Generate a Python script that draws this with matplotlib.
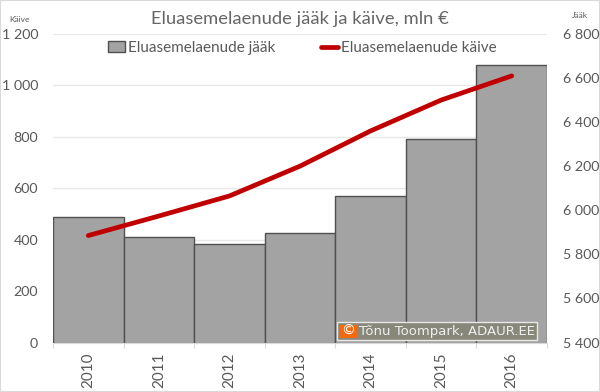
"""Eluasemelaenude jaak ja kaive chart."""

import matplotlib
matplotlib.use("Agg")
import matplotlib.pyplot as plt
from matplotlib.patches import Rectangle
from matplotlib.ticker import FuncFormatter

YEARS = ["2010", "2011", "2012", "2013", "2014", "2015", "2016"]
BALANCE = [5970, 5881, 5845, 5895, 6065, 6323, 6659]
TURNOVER = [416, 492, 570, 686, 823, 943, 1037]

LEFT_TICKS = [0, 200, 400, 600, 800, 1000, 1200]
RIGHT_TICKS = [5400, 5600, 5800, 6000, 6200, 6400, 6600, 6800]

W, H = 600, 392
TEXT = "#595959"


def _spaced(value: float, _: int) -> str:
    """Format thousands with a space."""
    return f"{value:,.0f}".replace(",", " ")


plt.rcParams["font.family"] = ["Lato", "DejaVu Sans"]

fig = plt.figure(figsize=(W / 100, H / 100), dpi=100, facecolor="white")
fig.add_artist(Rectangle((0, 0), 1, 1, transform=fig.transFigure, fill=False,
                         edgecolor="#d9d9d9", linewidth=1.5))

ax_left = fig.add_axes([53 / W, 1 - 342.5 / H, 494 / W, 308.5 / H])
ax_left.set_zorder(1)
ax_left.set_ylim(0, 1200)
ax_left.set_yticks(LEFT_TICKS)
ax_left.yaxis.set_major_formatter(FuncFormatter(_spaced))
ax_left.grid(axis="y", color="#e7e7e7", linewidth=1)
ax_left.set_axisbelow(True)

positions = list(range(len(YEARS)))
ax_left.set_xlim(-0.5, 6.5)
ax_left.set_xticks(positions)
ax_left.set_xticklabels(YEARS, rotation=90)
ax_left.set_xticks([p - 0.5 for p in positions] + [6.5], minor=True)

ax_bar = ax_left.twinx()
ax_bar.set_zorder(2)
ax_bar.patch.set_alpha(0)
ax_bar.bar(positions, BALANCE, width=1.0, color="#a3a3a3", edgecolor="#505050",
           linewidth=1.0, label="Eluasemelaenude jääk")
ax_bar.set_ylim(5400, 6800)
ax_bar.set_yticks(RIGHT_TICKS)
ax_bar.yaxis.set_major_formatter(FuncFormatter(_spaced))

ax_line = ax_left.twinx()
ax_line.set_zorder(3)
ax_line.patch.set_alpha(0)
ax_line.plot(positions, TURNOVER, color="#c00000", linewidth=3.4,
             solid_capstyle="round", label="Eluasemelaenude käive")
ax_line.set_ylim(0, 1200)
ax_line.axis("off")

for ax in (ax_left, ax_bar):
    for spine in ax.spines.values():
        spine.set_visible(False)
ax_left.spines["bottom"].set_visible(True)
ax_left.spines["bottom"].set_color("#d9d9d9")

ax_left.tick_params(axis="y", length=0, labelsize=10.3, labelcolor=TEXT, pad=10.8)
ax_bar.tick_params(axis="y", length=0, labelsize=10.3, labelcolor=TEXT, pad=11.5)
ax_left.tick_params(axis="x", which="major", length=0, labelsize=11, labelcolor=TEXT, pad=7)
ax_left.tick_params(axis="x", which="minor", length=3.5, width=0.8, color="#d9d9d9")

fig.text(0.5, 1 - 19 / H, "Eluasemelaenude jääk ja käive, mln €", ha="center",
         va="center", fontsize=13.2, color="#666666")
fig.text(19 / W, 1 - 19 / H, "Käive", ha="center", va="center", fontsize=6, color=TEXT)
fig.text(580 / W, 1 - 16 / H, "Jääk", ha="center", va="center", fontsize=6, color=TEXT)

fig.legend(
    handles=ax_bar.get_legend_handles_labels()[0] + ax_line.get_legend_handles_labels()[0],
    labels=ax_bar.get_legend_handles_labels()[1] + ax_line.get_legend_handles_labels()[1],
    loc="center",
    bbox_to_anchor=(302 / W, 1 - 48 / H),
    ncol=2,
    frameon=False,
    fontsize=11,
    labelcolor=TEXT,
    handlelength=1.15,
    handletextpad=0.15,
    columnspacing=3.0,
)

# watermark
fig.add_artist(Rectangle((337 / W, 1 - 339.5 / H), 200 / W, 17.5 / H, transform=fig.transFigure,
                         facecolor="#87877a", edgecolor="#e8e8e8", linewidth=1, zorder=5))
fig.add_artist(Rectangle((340 / W, 1 - 337.5 / H), 17 / W, 13 / H, transform=fig.transFigure,
                         facecolor="#f26a0f", edgecolor="none", zorder=6))
fig.text(348.5 / W, 1 - 331 / H, "©", ha="center", va="center", fontsize=10, color="white",
         family="DejaVu Sans", zorder=7)
fig.text(359 / W, 1 - 331 / H, "Tõnu Toompark, ADAUR.EE", ha="left", va="center", fontsize=9.5,
         color="#efefef", family="DejaVu Sans", zorder=7)

fig.savefig("out.png", dpi=100)
plt.close()
